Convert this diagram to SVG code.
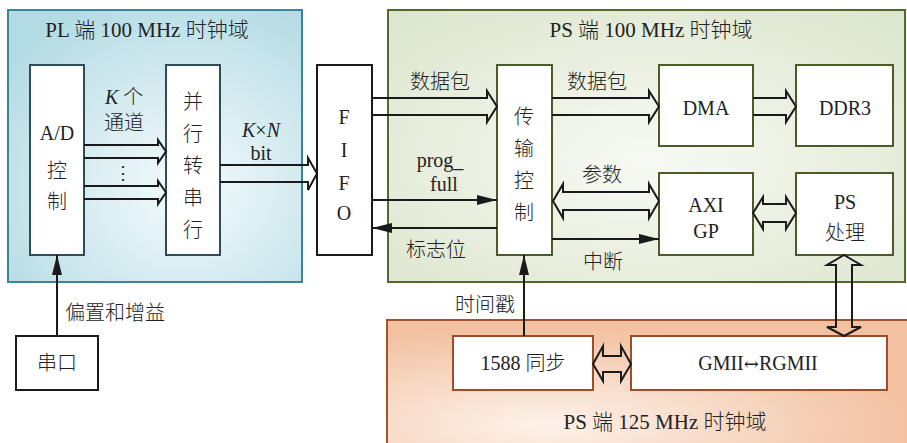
<svg xmlns="http://www.w3.org/2000/svg" width="907" height="443" viewBox="0 0 907 443">
<defs>
<radialGradient id="gPL" cx="0.6" cy="0.65" r="0.75">
<stop offset="0" stop-color="#f6fbfc"/>
<stop offset="1" stop-color="#b3dbe4"/>
</radialGradient>
<radialGradient id="gPS" cx="0.5" cy="0.55" r="0.75">
<stop offset="0" stop-color="#f8faf4"/>
<stop offset="1" stop-color="#dbe5cc"/>
</radialGradient>
<radialGradient id="gPS2" cx="0.3" cy="0.75" r="0.7">
<stop offset="0" stop-color="#fdf2ea"/>
<stop offset="1" stop-color="#f2c1a1"/>
</radialGradient>
<marker id="ah" viewBox="0 0 20 10" refX="20" refY="5" markerWidth="20" markerHeight="10" markerUnits="userSpaceOnUse" orient="auto">
<path d="M0,0 L20,5 L0,10 Z" fill="#1a1a1a"/>
</marker>
<style>
text{font-family:"Liberation Serif","Noto Sans CJK SC",serif;font-size:20px;font-weight:300;fill:#222;}
.m{text-anchor:middle;}
.t{font-size:21px;}
.box{fill:#fff;stroke-width:2;}
.bpl{stroke:#2e4d58;}
.bps{stroke:#4c5c29;}
.bor{stroke:#9c4e2a;}
.bk{stroke:#1a1a1a;}
.ln{fill:none;stroke:#1a1a1a;stroke-width:2;}
.ho{fill:none;stroke:#1a1a1a;stroke-width:2;stroke-linejoin:miter;}
</style>
</defs>

<g id="domain-pl">
<rect x="8" y="10" width="294" height="272" fill="url(#gPL)" stroke="#3a8597" stroke-width="2"/>
<text class="m t" x="147" y="37">PL 端 100 MHz 时钟域</text>
</g>
<g id="domain-ps100">
<rect x="388" y="10" width="517" height="272" fill="url(#gPS)" stroke="#55692f" stroke-width="2"/>
<text class="m t" x="651" y="37">PS 端 100 MHz 时钟域</text>
</g>
<g id="domain-ps125">
<rect x="387" y="320" width="530" height="140" fill="url(#gPS2)" stroke="#a2532c" stroke-width="2"/>
<text class="m t" x="665" y="429">PS 端 125 MHz 时钟域</text>
</g>

<g id="ad">
<rect class="box bpl" x="30" y="65" width="54" height="190"/>
<text class="m" x="57" y="140">A/D</text>
<text class="m" x="57" y="178">控</text>
<text class="m" x="57" y="209">制</text>
</g>
<g id="p2s">
<rect class="box bpl" x="166" y="65" width="54" height="190"/>
<text class="m" x="193" y="109">并</text>
<text class="m" x="193" y="141">行</text>
<text class="m" x="193" y="173">转</text>
<text class="m" x="193" y="205">串</text>
<text class="m" x="193" y="237">行</text>
</g>
<g id="fifo">
<rect class="box bk" x="317" y="65" width="55" height="190"/>
<text class="m" x="344" y="124">F</text>
<text class="m" x="344" y="157">I</text>
<text class="m" x="344" y="190">F</text>
<text class="m" x="344" y="220">O</text>
</g>
<g id="trans">
<rect class="box bps" x="497" y="65" width="55" height="190"/>
<text class="m" x="524" y="124">传</text>
<text class="m" x="524" y="156">输</text>
<text class="m" x="524" y="188">控</text>
<text class="m" x="524" y="220">制</text>
</g>
<g id="dma">
<rect class="box bps" x="659" y="65" width="94" height="81"/>
<text class="m" x="706" y="115">DMA</text>
</g>
<g id="ddr3">
<rect class="box bps" x="796" y="65" width="97" height="81"/>
<text class="m" x="845" y="115">DDR3</text>
</g>
<g id="axigp">
<rect class="box bps" x="659" y="173" width="94" height="82"/>
<text class="m" x="706" y="212">AXI</text>
<text class="m" x="706" y="238">GP</text>
</g>
<g id="psproc">
<rect class="box bps" x="796" y="173" width="97" height="82"/>
<text class="m" x="845" y="209">PS</text>
<text class="m" x="845" y="240">处理</text>
</g>
<g id="sync1588">
<rect class="box bor" x="453" y="336" width="140" height="54"/>
<text class="m" x="523" y="370">1588 同步</text>
</g>
<g id="gmii">
<rect class="box bor" x="631" y="336" width="256" height="54"/>
<text class="m" x="758" y="370">GMII<tspan style="font-family:'DejaVu Serif','DejaVu Sans',serif;font-size:18px">↔</tspan>RGMII</text>
</g>
<g id="uart">
<rect class="box bk" x="16" y="336" width="82" height="54"/>
<text class="m" x="57" y="370">串口</text>
</g>

<g id="connectors">
<!-- A/D to P2S, K channels -->
<path class="ho" d="M84,145 H158 V140 L166,151.5 L158,163 V158 H84"/>
<path class="ho" d="M84,186 H158 V181 L166,192.5 L158,204 V199 H84"/>
<text class="m" x="123" y="179" style="font-size:18px">⋮</text>
<text x="105" y="104"><tspan font-style="italic">K</tspan> 个</text>
<text x="104" y="130">通道</text>
<!-- P2S to FIFO -->
<path class="ho" d="M220,165 H308 V158 L317,173.5 L308,190 V182 H220"/>
<text class="m" x="261" y="137"><tspan font-style="italic">K</tspan>×<tspan font-style="italic">N</tspan></text>
<text class="m" x="261" y="160">bit</text>
<!-- FIFO to trans: data -->
<path class="ho" d="M372,98 H487 V91 L497,106.5 L487,122 V115 H372"/>
<text x="410" y="89">数据包</text>
<!-- prog_full -->
<line class="ln" x1="372" y1="200" x2="497" y2="200" marker-end="url(#ah)"/>
<text class="m" x="440" y="167">prog_</text>
<text class="m" x="444" y="191">full</text>
<!-- flag -->
<line class="ln" x1="497" y1="228" x2="372" y2="228" marker-end="url(#ah)"/>
<text x="406" y="257">标志位</text>
<!-- trans to DMA -->
<path class="ho" d="M552,98 H649 V91 L659,106.5 L649,122 V115 H552"/>
<text x="567" y="89">数据包</text>
<!-- DMA to DDR3 -->
<path class="ho" d="M753,98 H786 V91 L796,106.5 L786,122 V115 H753"/>
<!-- params bidirectional -->
<path class="ho" d="M553,201 L563,184 V192 H649 V184 L659,201 L649,218 V210 H563 V218 Z"/>
<text x="582" y="182">参数</text>
<!-- interrupt -->
<line class="ln" x1="552" y1="239" x2="659" y2="239" marker-end="url(#ah)"/>
<text x="583" y="269">中断</text>
<!-- AXI <-> PS -->
<path class="ho" d="M753,213 L763,197 V204 H786 V197 L796,213 L786,229 V222 H763 V229 Z"/>
<!-- PS <-> GMII vertical -->
<path class="ho" d="M844,255 L861,265 H852 V327 H861 L844,336 L827,327 H836 V265 H827 Z"/>
<!-- 1588 <-> GMII -->
<path class="ho" d="M593,364 L603,346 V356 H621 V346 L631,364 L621,381 V372 H603 V381 Z"/>
<!-- timestamp -->
<line class="ln" x1="524" y1="336" x2="524" y2="255" marker-end="url(#ah)"/>
<text x="455" y="312">时间戳</text>
<!-- bias and gain -->
<line class="ln" x1="57" y1="336" x2="57" y2="255" marker-end="url(#ah)"/>
<text x="65" y="320">偏置和增益</text>
</g>
</svg>
